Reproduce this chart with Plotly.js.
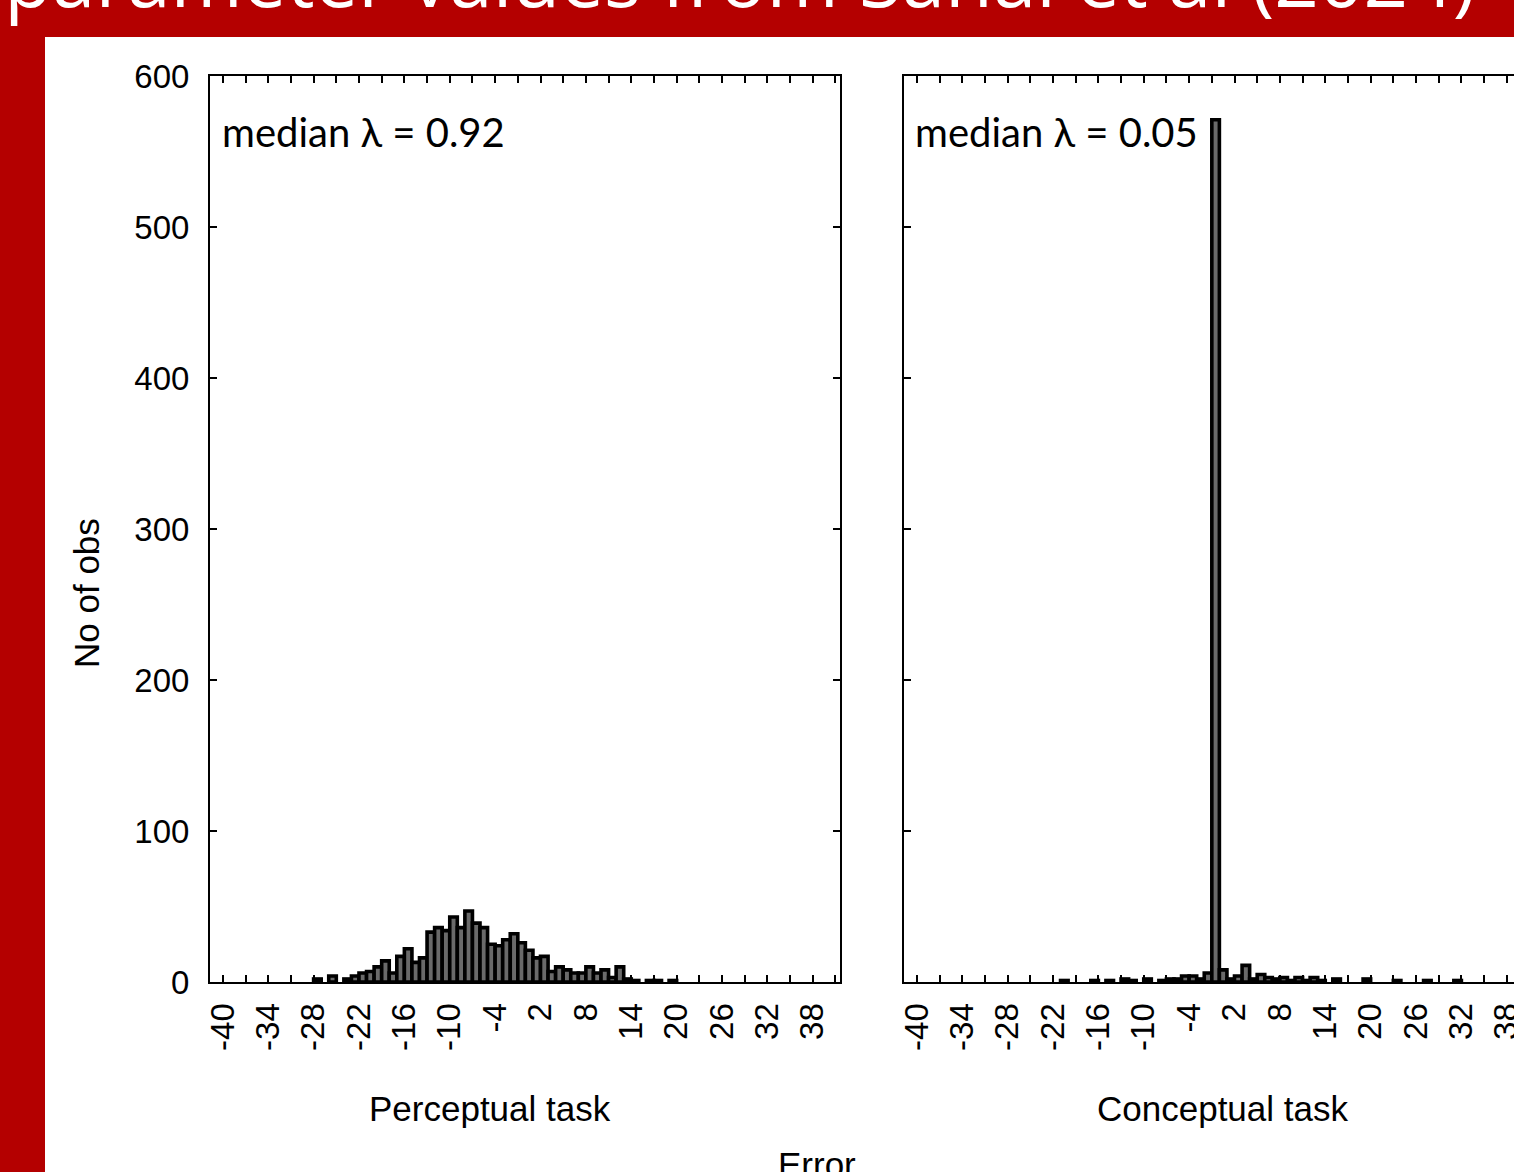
<!DOCTYPE html>
<html><head><meta charset="utf-8">
<script src="https://cdn.plot.ly/plotly-3.0.1.min.js"></script>
<style>
html,body{margin:0;padding:0;overflow:hidden;background:#b40000;width:1514px;height:1172px}
#chart{position:absolute;left:0;top:-60px;width:1600px;height:1232px}
</style>
</head><body><div id="chart"></div>
<script>
// Histogram bins: lower edge of each 1-unit bin, and its count
const perceptualBins   = [-28,-26,-24,-23,-22,-21,-20,-19,-18,-17,-16,-15,-14,-13,-12,-11,-10,-9,-8,-7,-6,-5,-4,-3,-2,-1,0,1,2,3,4,5,6,7,8,9,10,11,12,13,14,16,17,19];
const perceptualCounts = [2,4,2,4,6,7,10,14,6,17,22,13,16,33,36,34,43,36,47,39,36,25,24,28,32,26,21,16,17,7,10,8,6,6,10,6,8,3,10,2,1,1,1,1];
const conceptualBins   = [-21,-17,-15,-13,-12,-10,-8,-7,-6,-5,-4,-3,-2,-1,0,1,2,3,4,5,6,7,8,9,10,11,12,13,15,19,23,27,31];
const conceptualCounts = [1,1,1,2,1,2,1,2,2,4,4,2,6,571,8,2,4,11,2,5,3,2,3,1,3,1,3,1,2,2,1,1,1];

const xTickVals = [-40,-37,-34,-31,-28,-25,-22,-19,-16,-13,-10,-7,-4,-1,2,5,8,11,14,17,20,23,26,29,32,35,38,41];
const xTickText = ['-40','','-34','','-28','','-22','','-16','','-10','','-4','','2','','8','','14','','20','','26','','32','','38',''];
const yTickVals = [0,100,200,300,400,500,600];
const yTickText = ['0','100','200','300','400','500','600'];

const medianLabels = ['median λ = 0.92','median λ = 0.05'];
const panelTitles  = ['Perceptual task','Conceptual task'];
const yTitle = 'No of obs';
const xTitle = 'Error';
const mainTitle = 'Fitted parameter values from Sanai et al (2024)';

const W = 1600, H = 1232, OFF = 60;
const px = x => x / W;
const py = y => (H - (y + OFF)) / H;

const barStyle = {color:'#6a6a6a', line:{color:'#000', width:3.6}};
const traces = [
  {type:'bar', x:perceptualBins, y:perceptualCounts, offset:0, width:1, marker:barStyle, xaxis:'x', yaxis:'y', hoverinfo:'x+y'},
  {type:'bar', x:conceptualBins, y:conceptualCounts, offset:0, width:1, marker:barStyle, xaxis:'x2', yaxis:'y2', hoverinfo:'x+y'}
];

const tickFont = {family:'Liberation Sans, Arial, sans-serif', size:33, color:'#000'};
const xBase = {
  range:[-41.7,41.6], tickmode:'array', tickvals:xTickVals, ticktext:xTickText,
  tickangle:-90, ticks:'inside', ticklen:7, tickwidth:2, tickcolor:'#000',
  showline:true, linecolor:'#000', linewidth:2, mirror:'ticks',
  showgrid:false, zeroline:false, tickfont:tickFont, fixedrange:true, ticklabelstandoff:6
};
const yBase = {
  range:[0,600], tickmode:'array', tickvals:yTickVals, ticktext:yTickText,
  ticks:'inside', ticklen:7, tickwidth:2, tickcolor:'#000',
  showline:true, linecolor:'#000', linewidth:2, mirror:'ticks',
  showgrid:false, zeroline:false, tickfont:tickFont, fixedrange:true,
  domain:[py(982), py(76)]
};

const labelFont = {family:'Liberation Sans, Arial, sans-serif', size:35, color:'#000'};
const medFont = {family:'Lato, Carlito, sans-serif', size:40, color:'#000'};

const layout = {
  width:W, height:H, margin:{l:0,r:0,t:0,b:0},
  paper_bgcolor:'#b40000', plot_bgcolor:'#fff', showlegend:false, bargap:0,
  xaxis:Object.assign({}, xBase, {domain:[px(210), px(840)], anchor:'y'}),
  yaxis:Object.assign({}, yBase, {anchor:'x', ticklabelstandoff:12}),
  xaxis2:Object.assign({}, xBase, {domain:[px(904), px(1534)], anchor:'y2'}),
  yaxis2:Object.assign({}, yBase, {anchor:'x2', showticklabels:false}),
  shapes:[
    {type:'rect', xref:'paper', yref:'paper', x0:px(45), x1:1, y0:0, y1:py(37), fillcolor:'#fff', line:{width:0}, layer:'below'}
  ],
  annotations:[
    {text:mainTitle, xref:'paper', yref:'paper', x:px(1478), y:py(32), xanchor:'right', yanchor:'bottom', showarrow:false,
     font:{family:'Open Sans, sans-serif', size:78, color:'#fff'}},
    {text:medianLabels[0], xref:'paper', yref:'paper', x:px(220), y:py(132), xanchor:'left', yanchor:'middle', showarrow:false, font:medFont},
    {text:medianLabels[1], xref:'paper', yref:'paper', x:px(913), y:py(132), xanchor:'left', yanchor:'middle', showarrow:false, font:medFont},
    {text:panelTitles[0], xref:'paper', yref:'paper', x:px(490), y:py(1108), xanchor:'center', yanchor:'middle', showarrow:false, font:labelFont},
    {text:panelTitles[1], xref:'paper', yref:'paper', x:px(1222), y:py(1108), xanchor:'center', yanchor:'middle', showarrow:false, font:labelFont},
    {text:yTitle, xref:'paper', yref:'paper', x:px(87), y:py(593), xanchor:'center', yanchor:'middle', textangle:-90, showarrow:false, font:labelFont},
    {text:xTitle, xref:'paper', yref:'paper', x:px(817), y:py(1164), xanchor:'center', yanchor:'middle', showarrow:false, font:labelFont}
  ]
};

Plotly.newPlot('chart', traces, layout, {staticPlot:true, displayModeBar:false});
</script>
</body></html>
